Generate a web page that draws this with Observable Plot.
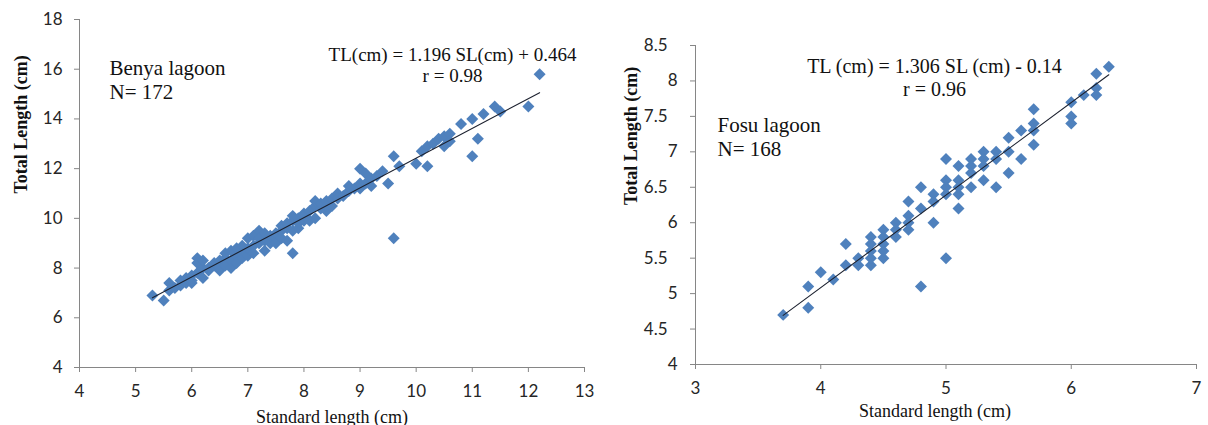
<!DOCTYPE html>
<html>
<head>
<meta charset="utf-8">
<script src="https://cdn.jsdelivr.net/npm/d3@7"></script>
<script src="https://cdn.jsdelivr.net/npm/@observablehq/plot@0.6"></script>
<style>
  html, body { margin: 0; padding: 0; background: #fff; }
  #wrap { display: flex; width: 1208px; height: 425px; }
  #wrap svg { display: block; overflow: visible; }
</style>
</head>
<body>
<div id="wrap"><div id="left"></div><div id="right"></div></div>
<script>
// ---------- Benya lagoon ----------
const benyaSL = [5.3,5.5,5.6,5.6,5.7,5.8,5.8,5.9,5.9,6.0,6.0,6.0,6.1,6.1,6.1,6.2,6.2,6.2,6.3,6.3,
  6.4,6.4,6.5,6.5,6.5,6.6,6.6,6.6,6.7,6.7,6.7,6.8,6.8,6.8,6.9,6.9,6.9,7.0,7.0,7.0,
  7.1,7.1,7.1,7.2,7.2,7.2,7.3,7.3,7.3,7.4,7.4,7.5,7.5,7.5,7.6,7.6,7.6,7.7,7.7,7.7,
  7.8,7.8,7.8,7.8,7.9,7.9,7.9,8.0,8.0,8.0,8.1,8.1,8.2,8.2,8.2,8.3,8.3,8.4,8.4,8.4,
  8.5,8.5,8.6,8.6,8.7,8.8,8.8,8.9,9.0,9.0,9.0,9.1,9.1,9.2,9.2,9.3,9.4,9.5,9.6,9.6,
  9.7,10.0,10.1,10.2,10.2,10.3,10.4,10.5,10.5,10.6,10.6,10.8,11.0,11.0,11.1,11.2,11.4,11.5,12.0,12.2];
const benyaTL = [6.9,6.7,7.1,7.4,7.2,7.3,7.5,7.4,7.6,7.4,7.7,7.5,7.8,8.4,8.2,7.6,8.0,8.3,7.9,8.0,
  8.1,8.2,7.9,8.3,8.0,8.4,8.1,8.6,8.7,8.0,8.3,8.5,8.2,8.8,8.6,8.9,8.4,8.5,8.8,9.2,
  8.9,9.3,8.6,9.5,9.0,9.2,8.7,9.1,9.4,9.0,9.3,9.2,9.4,9.0,9.5,9.2,9.7,9.1,9.6,9.8,
  8.6,9.9,9.5,10.1,9.8,10.0,9.6,10.2,9.9,10.1,9.9,10.3,10.0,10.5,10.7,10.4,10.6,10.3,10.7,10.5,
  10.8,10.5,11.0,10.8,10.9,11.1,11.3,11.2,12.0,11.2,11.4,11.8,11.4,11.6,11.3,11.7,11.9,11.4,12.5,9.2,
  12.1,12.2,12.7,12.1,12.9,13.0,13.2,13.3,12.9,13.4,13.1,13.8,14.0,12.5,13.2,14.2,14.5,14.3,14.5,15.8];
const benyaSlope = 1.196, benyaIntercept = 0.464;
const benyaXDomain = [4, 13], benyaYDomain = [4, 18];
const benyaXTicks = [4,5,6,7,8,9,10,11,12,13];
const benyaYTicks = [4,6,8,10,12,14,16,18];
const benyaName = "Benya lagoon\nN= 172";
const benyaEq = "TL(cm) = 1.196 SL(cm) + 0.464\nr = 0.98";

// ---------- Fosu lagoon ----------
const fosuSL = [3.7,3.9,3.9,4.0,4.1,4.2,4.2,4.3,4.3,4.4,4.4,4.4,4.4,4.4,4.5,4.5,4.5,4.5,4.5,
  4.6,4.6,4.6,4.7,4.7,4.7,4.7,4.8,4.8,4.8,4.9,4.9,4.9,5.0,5.0,5.0,5.0,5.0,
  5.1,5.1,5.1,5.1,5.1,5.2,5.2,5.2,5.2,5.3,5.3,5.3,5.3,5.4,5.4,5.4,5.5,5.5,5.5,
  5.6,5.6,5.7,5.7,5.7,5.7,6.0,6.0,6.0,6.1,6.2,6.2,6.2,6.3];
const fosuTL = [4.7,5.1,4.8,5.3,5.2,5.7,5.4,5.5,5.4,5.8,5.6,5.4,5.5,5.7,5.9,5.8,5.7,5.5,5.6,
  6.0,5.9,5.8,6.3,6.1,6.0,5.9,6.5,6.2,5.1,6.4,6.3,6.0,6.9,6.6,6.5,6.4,5.5,
  6.8,6.6,6.4,6.2,6.5,6.9,6.8,6.7,6.5,7.0,6.9,6.8,6.6,7.0,6.9,6.5,7.2,7.0,6.7,
  7.3,6.9,7.6,7.4,7.1,7.3,7.7,7.5,7.4,7.8,8.1,7.9,7.8,8.2];
const fosuSlope = 1.306, fosuIntercept = -0.14;
const fosuXDomain = [3, 7], fosuYDomain = [4, 8.5];
const fosuXTicks = [3,4,5,6,7];
const fosuYTicks = [4,4.5,5,5.5,6,6.5,7,7.5,8,8.5];
const fosuName = "Fosu lagoon\nN= 168";
const fosuEq = "TL (cm) = 1.306 SL (cm) - 0.14\nr = 0.96";

const xTitle = "Standard length (cm)";
const yTitle = "Total Length (cm)";

const blue = "#4F81BD";
const axisGray = "#868686";
const tickFont = "Lato, 'Open Sans', sans-serif";
const serif = "'Liberation Serif', 'DejaVu Serif', serif";

function zip(a, b) { return a.map((v, i) => ({sl: v, tl: b[i]})); }

function chart(o) {
  const data = zip(o.sl, o.tl);
  const ends = [d3.min(o.sl), d3.max(o.sl)];
  const intY = o.yTicks.filter(t => Number.isInteger(t));
  const halfY = o.yTicks.filter(t => !Number.isInteger(t));
  return Plot.plot({
    width: o.width, height: 425,
    marginLeft: o.ml, marginRight: o.mr, marginTop: o.mt, marginBottom: o.mb,
    x: {domain: o.xDomain, label: null},
    y: {domain: o.yDomain, label: null},
    style: {fontFamily: tickFont, fontSize: "17px", background: "white", overflow: "visible"},
    marks: [
      Plot.ruleY([o.yDomain[0]], {stroke: axisGray, strokeWidth: 1}),
      Plot.ruleX([o.xDomain[0]], {stroke: axisGray, strokeWidth: 1}),
      Plot.axisX({ticks: o.xTicks, tickSize: 5, tickPadding: o.xPad, stroke: axisGray, fill: "#262626", fontSize: 17, tickFormat: d3.format("")}),
      Plot.axisY({ticks: intY, tickSize: 5, tickPadding: o.yPadInt, stroke: axisGray, fill: "#262626", fontSize: 17, tickFormat: d3.format("")}),
      halfY.length ? Plot.axisY({ticks: halfY, tickSize: 5, tickPadding: o.yPadHalf, stroke: axisGray, fill: "#262626", fontSize: 17, tickFormat: d3.format("")}) : null,
      Plot.dot(data, {x: "sl", y: "tl", symbol: "diamond2", r: 5.4, fill: blue, stroke: "none"}),
      Plot.line(ends, {x: d => d, y: d => o.slope * d + o.intercept, stroke: "#1d2230", strokeWidth: 1.1}),
      Plot.text([o.name], {frameAnchor: "top-left", dx: o.nameDx, dy: o.nameDy, textAnchor: "start", lineAnchor: "middle", lineHeight: 1.15, fontSize: 21, fontFamily: serif, fill: "#111"}),
      Plot.text([o.eq], {frameAnchor: "top-left", dx: o.eqDx, dy: o.eqDy, textAnchor: "middle", lineAnchor: "middle", lineHeight: 1.15, fontSize: o.eqSize, fontFamily: serif, fill: "#111"}),
      Plot.text([xTitle], {frameAnchor: "bottom", dx: o.xtDx, dy: o.xtDy, lineAnchor: "middle", fontSize: 18, fontFamily: serif, fill: "#111"}),
      Plot.text([yTitle], {frameAnchor: "left", dx: o.ytDx, rotate: -90, lineAnchor: "middle", fontSize: 18, fontWeight: "bold", fontFamily: serif, fill: "#111"})
    ]
  });
}

document.getElementById("left").append(chart({
  sl: benyaSL, tl: benyaTL, slope: benyaSlope, intercept: benyaIntercept,
  xDomain: benyaXDomain, yDomain: benyaYDomain, xTicks: benyaXTicks, yTicks: benyaYTicks,
  width: 600, ml: 79, mr: 16, mt: 19, mb: 58,
  xPad: 12, yPadInt: 12, yPadHalf: 12,
  name: benyaName, nameDx: 30, nameDy: 60,
  eq: benyaEq, eqDx: 373, eqDy: 45, eqSize: 19,
  xtDx: 0, xtDy: 50, ytDx: -58
}));

document.getElementById("right").append(chart({
  sl: fosuSL, tl: fosuTL, slope: fosuSlope, intercept: fosuIntercept,
  xDomain: fosuXDomain, yDomain: fosuYDomain, xTicks: fosuXTicks, yTicks: fosuYTicks,
  width: 608, ml: 95, mr: 12, mt: 45, mb: 61,
  xPad: 12, yPadInt: 13, yPadHalf: 23,
  name: fosuName, nameDx: 22, nameDy: 91,
  eq: fosuEq, eqDx: 239, eqDy: 32, eqSize: 20,
  xtDx: -11, xtDy: 47, ytDx: -64
}));
</script>
</body>
</html>
